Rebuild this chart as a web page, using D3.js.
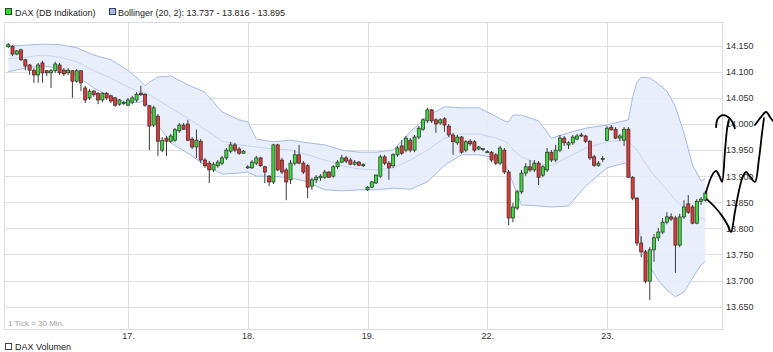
<!DOCTYPE html>
<html><head><meta charset="utf-8">
<script src="https://cdn.jsdelivr.net/npm/d3@7/dist/d3.min.js"></script>
<style>
body{margin:0;background:#fff;}
svg{display:block;font-family:"Liberation Sans",Arial,sans-serif;}
</style>
</head><body>
<svg id="chart" width="773" height="352"></svg>
<script>
// ---------- DATA ----------
const dayLabels = ["17.", "18.", "19.", "22.", "23."];
const dayStartIdx = [28, 56, 84, 112, 140];
const yTicks = [13650, 13700, 13750, 13800, 13850, 13900, 13950, 14000, 14050, 14100, 14150];
const legendMain = "DAX (DB Indikation)";
const legendBoll = "Bollinger (20, 2): 13.737 - 13.816 - 13.895";
const tickNote = "1 Tick = 30 Min.";
const volumeLabel = "DAX Volumen";

// candles [open, high, low, close], 30-min ticks
const day16 = [
[14148,14155,14146,14152],[14149,14151,14130,14134],[14134,14142,14132,14140],[14142,14144,14121,14123],
[14123,14125,14103,14111],[14113,14115,14094,14103],[14103,14107,14079,14094],[14094,14117,14079,14113],
[14117,14121,14079,14098],[14102,14103,14092,14098],[14098,14105,14069,14102],[14102,14119,14098,14115],
[14113,14117,14094,14098],[14103,14107,14092,14096],[14098,14107,14094,14103],[14102,14103,14050,14082],
[14082,14105,14079,14102],[14102,14103,14063,14079],[14069,14073,14040,14046],[14050,14067,14046,14063],
[14063,14065,14052,14056],[14059,14061,14038,14046],[14046,14061,14042,14059],[14059,14061,14046,14050],
[14054,14056,14040,14044],[14050,14052,14033,14036],[14038,14048,14035,14046],[14040,14044,14036,14041]
];
const day17 = [
[14036,14050,14035,14046],[14042,14054,14038,14050],[14046,14061,14042,14057],[14059,14073,14054,14056],
[14057,14059,14033,14036],[14035,14036,13950,13996],[13998,14035,13994,14031],[14015,14019,13939,13967],
[13950,13975,13946,13969],[13973,13977,13939,13967],[13967,13981,13964,13977],[13969,13992,13966,13989],
[13987,14002,13983,13998],[13998,14002,13989,13990],[14000,14008,13967,13969],[13971,13975,13952,13956],
[13956,13989,13935,13969],[13967,13971,13925,13931],[13931,13935,13916,13920],[13925,13929,13887,13912],
[13912,13927,13908,13923],[13920,13931,13916,13927],[13925,13939,13921,13935],[13935,13954,13931,13950],
[13948,13966,13944,13960],[13960,13964,13946,13950],[13952,13956,13941,13944],[13944,13950,13943,13948]
];
const day18 = [
[13916,13921,13914,13918],[13916,13931,13914,13927],[13925,13939,13921,13935],[13935,13937,13918,13920],
[13918,13920,13887,13908],[13900,13902,13881,13889],[13889,13962,13885,13960],[13960,13962,13910,13912],
[13931,13935,13904,13908],[13912,13916,13854,13889],[13893,13931,13885,13925],[13925,13950,13921,13941],
[13941,13960,13923,13925],[13925,13929,13904,13908],[13920,13923,13858,13879],[13881,13897,13874,13893],
[13893,13902,13887,13898],[13897,13904,13891,13900],[13898,13912,13895,13908],[13908,13910,13897,13898],
[13900,13921,13897,13918],[13918,13931,13914,13927],[13927,13941,13925,13935],[13935,13939,13925,13929],
[13931,13935,13921,13923],[13923,13931,13920,13927],[13927,13929,13920,13921],[13921,13925,13918,13922]
];
const day19 = [
[13874,13881,13872,13879],[13879,13891,13877,13889],[13887,13904,13885,13902],[13900,13941,13897,13937],
[13937,13941,13921,13925],[13925,13929,13893,13916],[13920,13944,13916,13941],[13941,13958,13937,13954],
[13958,13969,13941,13944],[13950,13977,13946,13973],[13969,13973,13946,13950],[13950,13979,13946,13975],
[13975,13996,13971,13992],[13990,14011,13987,14008],[14006,14031,14002,14027],[14027,14029,14002,14006],
[14008,14011,13983,14000],[14002,14011,13998,14008],[14010,14013,13985,13998],[13996,14000,13975,13979],
[13979,13983,13941,13966],[13964,13979,13960,13975],[13975,13977,13943,13946],[13950,13969,13946,13966],
[13967,13971,13958,13962],[13966,13969,13946,13950],[13952,13958,13950,13956],[13952,13954,13948,13953]
];
const day22 = [
[13946,13950,13944,13947],[13946,13948,13927,13931],[13941,13944,13921,13925],[13925,13958,13921,13954],
[13950,13954,13904,13908],[13908,13912,13806,13820],[13820,13849,13812,13841],[13839,13874,13835,13870],
[13870,13912,13866,13906],[13906,13925,13900,13918],[13918,13931,13908,13912],[13912,13931,13908,13925],
[13925,13929,13883,13898],[13902,13921,13898,13918],[13912,13954,13908,13946],[13946,13950,13927,13931],
[13931,13960,13927,13950],[13950,13979,13946,13973],[13973,13977,13958,13964],[13960,13967,13952,13964],
[13964,13979,13960,13975],[13971,13981,13969,13977],[13979,13983,13975,13977],[13977,13979,13964,13967],
[13967,13969,13931,13935],[13937,13941,13918,13921],[13921,13929,13918,13925],[13933,13939,13927,13934]
];
const day23 = [
[13969,13996,13967,13992],[13994,13998,13987,13989],[13990,13994,13971,13973],[13973,13981,13967,13977],
[13969,13994,13958,13990],[13990,13994,13897,13898],[13898,13900,13854,13858],[13858,13860,13766,13772],
[13772,13785,13745,13755],[13755,13759,13695,13699],[13699,13764,13663,13759],[13759,13789,13736,13782],
[13782,13801,13776,13793],[13793,13820,13789,13812],[13812,13831,13808,13822],[13822,13829,13814,13818],
[13820,13824,13715,13768],[13768,13828,13764,13822],[13822,13854,13818,13841],[13847,13864,13828,13831],
[13841,13845,13808,13810],[13810,13856,13808,13852],[13852,13860,13845,13856],[13854,13872,13851,13868]
];

// Bollinger band (20, 2), read at these tick indices
const bandIdx   = [0,4,8,12,16,20,24,28,31,32,33,35,38,42,46,50,54,56,58,62,66,70,74,78,82,86,90,94,98,102,106,110,114,116,117,118,120,124,127,131,135,140,144,145,146,147,148,150,152,154,156,158,160,162,163];
const bandUpper = [14149,14151,14153,14152,14146,14132,14123,14103,14082,14073,14080,14090,14092,14075,14061,14023,14008,14004,13971,13966,13969,13964,13960,13950,13946,13946,13950,13985,14015,14033,14031,14031,14015,14006,14004,14017,14017,14006,13973,13983,13992,13998,14006,14008,14052,14080,14090,14088,14077,14063,14033,13983,13921,13891,13895];
const bandMid   = [14125,14128,14132,14128,14119,14102,14088,14071,14061,14059,14056,14046,14031,14011,13990,13967,13960,13958,13956,13952,13950,13941,13931,13920,13914,13912,13916,13931,13950,13973,13981,13981,13973,13967,13962,13950,13937,13923,13920,13937,13954,13966,13969,13967,13958,13950,13937,13912,13893,13874,13854,13839,13827,13820,13816];
const bandLower = [14100,14107,14111,14107,14092,14069,14052,14040,14042,14046,14031,13998,13964,13944,13921,13904,13906,13908,13900,13900,13897,13889,13874,13872,13874,13874,13877,13875,13889,13921,13941,13941,13935,13923,13908,13887,13845,13843,13841,13843,13881,13916,13925,13921,13883,13831,13768,13726,13701,13682,13669,13678,13705,13730,13737];

// hand-drawn annotation strokes [tick index, price]
const sketch1 = [[163.1,13868],[164.6,13902],[165.5,13910],[166.4,13898],[166.9,13889],[167.6,13950],[168.1,13992],[168.5,14008]];
const sketch2 = [[165.5,13994],[165.9,14010],[167.1,14017],[168.8,14010],[169.9,13992]];
const sketch3 = [[163.3,13856],[165.2,13841],[166.9,13824],[168.3,13805],[169.0,13793],[169.9,13831],[170.9,13874],[171.8,13900],[172.5,13908],[173.4,13900],[174.6,13889],[175.5,13931],[176.2,13979],[176.7,14011]];
const sketch4 = [[174.6,13998],[176.0,14013],[177.2,14023],[178.3,14011],[178.8,14006]];

// ---------- CHART ----------
const candles = [].concat(day16, day17, day18, day19, day22, day23)
  .map((d, i) => ({i, o: d[0], h: d[1], l: d[2], c: d[3]}));
const band = bandIdx.map((d, k) => ({i: d, u: bandUpper[k], m: bandMid[k], lo: bandLower[k]}));

const plot = {left: 4, right: 722, top: 22, bottom: 329};
const svg = d3.select("#chart");

const x = d3.scaleLinear().domain([dayStartIdx[0], dayStartIdx[4]]).range([128, 607]);
const y = d3.scaleLinear().domain([13650, 14000]).range([306.7, 124]);

const de = d3.formatLocale({decimal: ",", thousands: ".", grouping: [3], currency: ["", "€"]});
const fmt = de.format(",");

// grid
svg.append("g").selectAll("line").data(yTicks).join("line")
  .attr("x1", plot.left).attr("x2", plot.right)
  .attr("y1", d => Math.round(y(d)) + 0.5).attr("y2", d => Math.round(y(d)) + 0.5)
  .attr("stroke", "#e0e0e0");
svg.append("g").selectAll("line").data(dayStartIdx).join("line")
  .attr("x1", d => Math.round(x(d)) + 0.5).attr("x2", d => Math.round(x(d)) + 0.5)
  .attr("y1", plot.top).attr("y2", plot.bottom)
  .attr("stroke", "#e0e0e0");
svg.append("rect").attr("x", plot.left + 0.5).attr("y", plot.top + 0.5)
  .attr("width", plot.right - plot.left).attr("height", plot.bottom - plot.top)
  .attr("fill", "none").attr("stroke", "#dcdcdc");

// bollinger
svg.append("path").datum(band)
  .attr("d", d3.area().x(d => x(d.i)).y0(d => y(d.lo)).y1(d => y(d.u)))
  .attr("fill", "#e6edfb").attr("opacity", 0.9);
const bl = key => d3.line().x(d => x(d.i)).y(d => y(d[key]));
svg.append("path").datum(band).attr("d", bl("u")).attr("fill", "none").attr("stroke", "#a3bbe8").attr("stroke-width", 1);
svg.append("path").datum(band).attr("d", bl("lo")).attr("fill", "none").attr("stroke", "#a3bbe8").attr("stroke-width", 1);
svg.append("path").datum(band).attr("d", bl("m")).attr("fill", "none").attr("stroke", "#c4d4f1").attr("stroke-width", 1);

// candles
const bw = (x(1) - x(0)) * 0.72;
const cg = svg.append("g");
cg.selectAll("line").data(candles).join("line")
  .attr("x1", d => x(d.i)).attr("x2", d => x(d.i))
  .attr("y1", d => y(d.h)).attr("y2", d => y(d.l))
  .attr("stroke", "#3a3a3a").attr("stroke-width", 1);
cg.selectAll("rect").data(candles).join("rect")
  .attr("x", d => x(d.i) - bw / 2)
  .attr("y", d => y(Math.max(d.o, d.c)))
  .attr("width", bw)
  .attr("height", d => Math.max(1, Math.abs(y(d.o) - y(d.c))))
  .attr("fill", d => d.c >= d.o ? "#33e033" : "#ee3333")
  .attr("stroke", "#2a2a2a").attr("stroke-width", 0.7);

// y axis
const yAxis = d3.axisRight(y).tickValues(yTicks).tickFormat(fmt).tickSize(0).tickPadding(4);
const ya = svg.append("g").attr("transform", `translate(${plot.right},0)`).call(yAxis);
ya.select(".domain").remove();
ya.selectAll("text").attr("font-size", 9).attr("fill", "#333").attr("font-family", "Liberation Sans, Arial, sans-serif");

// x axis
const xAxis = d3.axisBottom(x).tickValues(dayStartIdx).tickFormat((d, k) => dayLabels[k]).tickSize(0).tickPadding(4);
const xa = svg.append("g").attr("transform", `translate(0,${plot.bottom})`).call(xAxis);
xa.select(".domain").remove();
xa.selectAll("text").attr("font-size", 9).attr("fill", "#333").attr("font-family", "Liberation Sans, Arial, sans-serif");

// notes
svg.append("text").attr("x", 8).attr("y", 326).attr("font-size", 8).attr("fill", "#a0a0a0").text(tickNote);

// legend
svg.append("rect").attr("x", 5.5).attr("y", 8.5).attr("width", 6).attr("height", 6).attr("fill", "#33d633").attr("stroke", "#1f4f1f");
svg.append("text").attr("x", 15).attr("y", 16).attr("font-size", 9).attr("fill", "#222").text(legendMain);
svg.append("rect").attr("x", 109.5).attr("y", 8.5).attr("width", 6).attr("height", 6).attr("fill", "#a9bde6").attr("stroke", "#33415f");
svg.append("text").attr("x", 118).attr("y", 16).attr("font-size", 9).attr("fill", "#222").text(legendBoll);

svg.append("rect").attr("x", 5.5).attr("y", 343.5).attr("width", 6).attr("height", 6).attr("fill", "#fff").attr("stroke", "#444");
svg.append("text").attr("x", 15).attr("y", 350).attr("font-size", 9).attr("fill", "#222").text(volumeLabel);

// sketch annotation
const sl = d3.line().x(d => x(d[0])).y(d => y(d[1])).curve(d3.curveCatmullRom);
[sketch1, sketch2, sketch3, sketch4].forEach(s => {
  svg.append("path").datum(s).attr("d", sl).attr("fill", "none")
    .attr("stroke", "#000").attr("stroke-width", 1.8)
    .attr("stroke-linecap", "round").attr("stroke-linejoin", "round");
});
</script>
</body></html>
